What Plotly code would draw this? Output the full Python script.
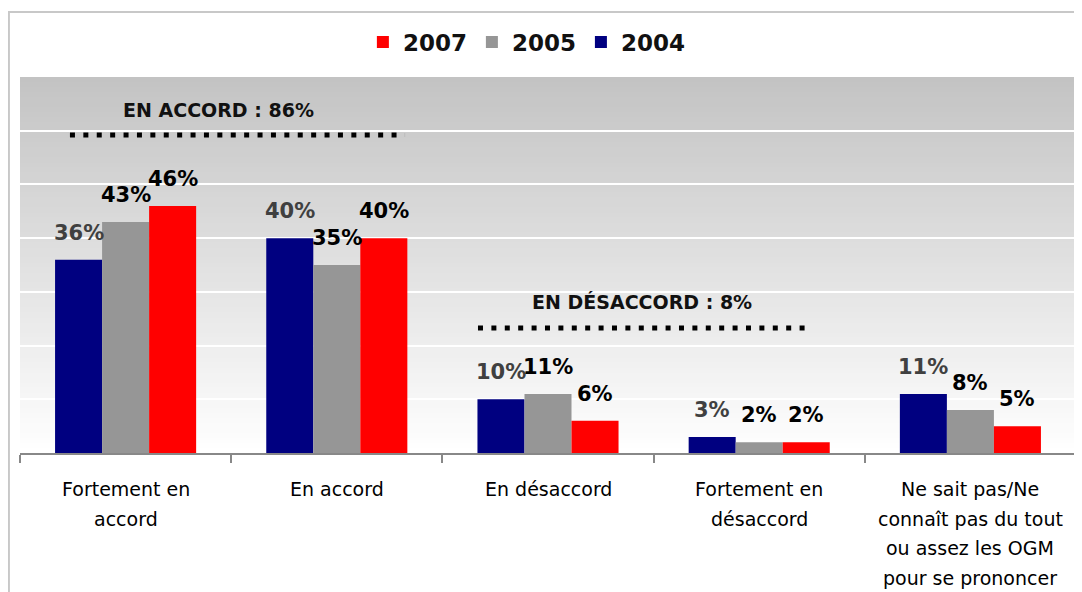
import plotly.graph_objects as go

# data
categories = ["Fortement en<br>accord", "En accord", "En désaccord",
              "Fortement en<br>désaccord",
              "Ne sait pas/Ne<br>connaît pas du tout<br>ou assez les OGM<br>pour se prononcer"]
years = ["2004", "2005", "2007"]
values_2004 = [36, 40, 10, 3, 11]
values_2005 = [43, 35, 11, 2, 8]
values_2007 = [46, 40, 6, 2, 5]
totals_text = ["EN ACCORD : 86%", "EN DÉSACCORD : 8%"]

series = [values_2004, values_2005, values_2007]
colors = ["#000080", "#969696", "#ff0000"]
label_colors = ["#404040", "#000000", "#000000"]
FONT = "DejaVu Sans"

fig = go.Figure()
for yr, vals, col in zip(years, series, colors):
    fig.add_trace(go.Bar(x=categories, y=vals, name=yr, marker_color=col,
                         marker_line_width=0))

shapes = []
# vertical gradient behind the plot (gray at top -> white at bottom)
# each rect runs to the top so no seams show between strips
n = 75
for j in range(n):
    shade = int(round(255 - 60 * (j + 0.5) / n))
    shapes.append(dict(type="rect", xref="paper", yref="paper", x0=0, x1=1,
                       y0=j / n, y1=1, layer="below",
                       fillcolor=f"rgb({shade},{shade},{shade})", line_width=0))
# outer frame
shapes.append(dict(type="rect", xref="paper", yref="paper", x0=-0.0105, x1=1.05,
                   y0=-0.5, y1=1.173, line=dict(color="#c8c8c8", width=2)))
# dotted lines under the two totals
shapes.append(dict(type="line", xref="paper", yref="paper", x0=0.0473, x1=0.3646,
                   y0=0.8457, y1=0.8457, line=dict(color="#000", width=5, dash="5px,8.4px")))
shapes.append(dict(type="line", xref="paper", yref="paper", x0=0.4337, x1=0.75,
                   y0=0.3324, y1=0.3324, line=dict(color="#000", width=5, dash="5px,8.4px")))

annotations = []
# value labels above bars
for i, vals in enumerate(series):
    for cat, v in zip(categories, vals):
        annotations.append(dict(x=cat, y=v, xref="x", yref="y", text=f"{v}%",
                                showarrow=False, yanchor="bottom", yshift=13,
                                xshift=(i - 1) * 47,
                                font=dict(family=FONT, size=21, weight="bold",
                                          color=label_colors[i])))
# category labels, one annotation per line for the wider line spacing
for cat in categories:
    for k, line in enumerate(cat.split("<br>")):
        annotations.append(dict(x=cat, y=0, xref="x", yref="paper", text=line,
                                showarrow=False, yanchor="middle",
                                yshift=-(36 + k * 29.5),
                                font=dict(family=FONT, size=19, color="#000")))
# totals
annotations.append(dict(x=0.1884, y=0.912, xref="paper", yref="paper",
                        xanchor="center", yanchor="middle",
                        text=totals_text[0], showarrow=False,
                        font=dict(family=FONT, size=19, weight="bold", color="#111")))
annotations.append(dict(x=0.589, y=0.4016, xref="paper", yref="paper",
                        xanchor="center", yanchor="middle",
                        text=totals_text[1], showarrow=False,
                        font=dict(family=FONT, size=19, weight="bold", color="#111")))

# page has an 8px body margin, so the figure is 8px smaller each way
fig.update_layout(
    width=1074, height=584,
    margin=dict(l=12, r=6, t=69, b=139, autoexpand=False),
    paper_bgcolor="white", plot_bgcolor="rgba(0,0,0,0)",
    barmode="group", bargap=0.332, bargroupgap=0,
    showlegend=True,
    legend=dict(orientation="h", traceorder="reversed", x=0.48, y=1.093,
                xanchor="center", yanchor="middle", itemwidth=30,
                font=dict(family=FONT, size=23, weight="bold", color="#111")),
    shapes=shapes, annotations=annotations,
)
fig.update_xaxes(showticklabels=False, ticks="outside", tickson="boundaries",
                 ticklen=8, tickwidth=2, tickcolor="#888", showline=True,
                 linecolor="#888", linewidth=2, showgrid=False)
fig.update_yaxes(range=[0, 70], dtick=10, showticklabels=False, showgrid=True,
                 gridcolor="white", gridwidth=2, zeroline=False, showline=False)

fig.write_html("out.html")
